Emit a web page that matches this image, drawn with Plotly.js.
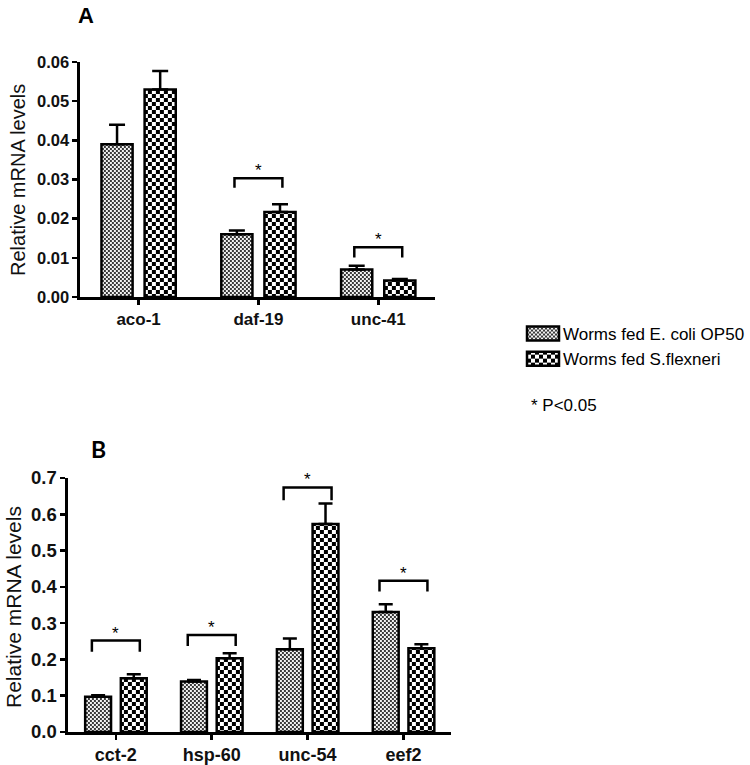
<!DOCTYPE html>
<html>
<head>
<meta charset="utf-8">
<script src="https://cdn.plot.ly/plotly-3.0.1.min.js"></script>
<style>
html,body{margin:0;padding:0;background:#fff;}
#chart{width:750px;height:765px;}
</style>
</head>
<body>
<svg width="0" height="0" style="position:absolute">
  <defs>
    <pattern id="fineChk" width="4" height="4" patternUnits="userSpaceOnUse">
      <rect width="4" height="4" fill="#f2f2f2"/>
      <rect x="0" y="0" width="2" height="2" fill="#3a3a3a"/>
      <rect x="2" y="2" width="2" height="2" fill="#3a3a3a"/>
    </pattern>
    <pattern id="coarseChk" width="8" height="8" patternUnits="userSpaceOnUse">
      <rect width="8" height="8" fill="#ffffff"/>
      <rect x="0" y="0" width="4" height="4" fill="#000"/>
      <rect x="4" y="4" width="4" height="4" fill="#000"/>
    </pattern>
  </defs>
</svg>
<div id="chart"></div>
<script>
// ---------- data ----------
const seriesNames = ['Worms fed E. coli OP50', 'Worms fed S.flexneri'];

const catsA = ['aco-1', 'daf-19', 'unc-41'];
const ecoliA = [0.039, 0.016, 0.007];
const ecoliAErr = [0.005, 0.001, 0.001];
const sflexA = [0.053, 0.0217, 0.0042];
const sflexAErr = [0.0047, 0.002, 0.0004];
const sigAIdx = [1, 2];
const sigATop = [0.0303, 0.0127];
const sigALeg = [0.0279, 0.0101];

const catsB = ['cct-2', 'hsp-60', 'unc-54', 'eef2'];
const ecoliB = [0.097, 0.139, 0.228, 0.331];
const ecoliBErr = [0.004, 0.004, 0.030, 0.021];
const sflexB = [0.148, 0.203, 0.573, 0.231];
const sflexBErr = [0.011, 0.014, 0.057, 0.011];
const sigBIdx = [0, 1, 2, 3];
const sigBTop = [0.252, 0.267, 0.674, 0.417];
const sigBLeg = [0.221, 0.237, 0.639, 0.387];

const yTicksA = [0, 0.01, 0.02, 0.03, 0.04, 0.05, 0.06];
const yTicksB = [0, 0.1, 0.2, 0.3, 0.4, 0.5, 0.6, 0.7];

// ---------- helpers ----------
const W = 750, H = 765;
const px = v => v / W;
const py = v => 1 - v / H;
const FONT = 'Liberation Sans, Arial, sans-serif';
const idx = a => a.map((_, i) => i);
const zeros = a => a.map(() => 0);

function barTrace(x, y, err, name, xa, ya, offset, width, capW, show) {
  return {
    type: 'bar', x: x, y: y, name: name, xaxis: xa, yaxis: ya,
    offset: offset, width: width, showlegend: show, legendgroup: name,
    marker: {color: '#888', line: {color: '#000', width: 2.5}},
    error_y: {type: 'data', symmetric: false, array: err, arrayminus: zeros(err),
              color: '#000', thickness: 2.5, width: capW},
    hoverinfo: 'skip'
  };
}
function bracketTrace(ids, tops, legs, half, xa, ya) {
  const xs = [], ys = [];
  ids.forEach((c, k) => {
    xs.push(c - half, c - half, c + half, c + half, null);
    ys.push(legs[k], tops[k], tops[k], legs[k], null);
  });
  return {type: 'scatter', mode: 'lines', x: xs, y: ys, xaxis: xa, yaxis: ya,
          line: {color: '#000', width: 2.5}, showlegend: false, hoverinfo: 'skip'};
}
function starAnnots(ids, tops, xr, yr) {
  return ids.map((c, k) => ({
    x: c, y: tops[k], xref: xr, yref: yr, text: '*', showarrow: false,
    yanchor: 'bottom', yshift: -4, font: {family: FONT, size: 17, color: '#000'}
  }));
}

const data = [
  barTrace(idx(catsA), ecoliA, ecoliAErr, seriesNames[0], 'x', 'y', -0.31, 0.26, 8, true),
  barTrace(idx(catsA), sflexA, sflexAErr, seriesNames[1], 'x', 'y', 0.05, 0.26, 8, true),
  barTrace(idx(catsB), ecoliB, ecoliBErr, seriesNames[0], 'x2', 'y2', -0.32, 0.27, 7, false),
  barTrace(idx(catsB), sflexB, sflexBErr, seriesNames[1], 'x2', 'y2', 0.052, 0.27, 7, false),
  bracketTrace(sigAIdx, sigATop, sigALeg, 0.2, 'x', 'y'),
  bracketTrace(sigBIdx, sigBTop, sigBLeg, 0.25, 'x2', 'y2')
];

const axisCommon = {
  showline: true, linecolor: '#000', linewidth: 2.5, mirror: false,
  ticks: 'outside', ticklen: 5, tickwidth: 2.5, tickcolor: '#000',
  showgrid: false, zeroline: false, fixedrange: true,
  tickfont: {family: FONT, size: 17, color: '#111', weight: 700}
};

const layout = {
  width: W, height: H,
  margin: {l: 0, r: 0, t: 0, b: 0},
  paper_bgcolor: '#fff', plot_bgcolor: 'rgba(0,0,0,0)',
  barmode: 'overlay',
  showlegend: true,
  legend: {x: px(524), y: py(316), xanchor: 'left', yanchor: 'top',
           font: {family: FONT, size: 17, color: '#000'}, tracegroupgap: 0,
           bgcolor: 'rgba(0,0,0,0)', itemwidth: 30, itemclick: false},
  xaxis: Object.assign({}, axisCommon, {
    domain: [px(80), px(436)], range: [-0.49, 2.477], anchor: 'y',
    tickvals: idx(catsA), ticktext: catsA
  }),
  yaxis: Object.assign({}, axisCommon, {
    domain: [py(297), py(62)], range: [0, 0.06], anchor: 'x',
    tickvals: yTicksA, tickformat: '.2f',
    tickfont: {family: FONT, size: 16.5, color: '#111', weight: 700}
  }),
  xaxis2: Object.assign({}, axisCommon, {
    domain: [px(68), px(452)], range: [-0.5, 3.5], anchor: 'y2',
    tickvals: idx(catsB), ticktext: catsB,
    tickfont: {family: FONT, size: 18, color: '#111', weight: 700}
  }),
  yaxis2: Object.assign({}, axisCommon, {
    domain: [py(732), py(478)], range: [0, 0.7], anchor: 'x2',
    tickvals: yTicksB, tickformat: '.1f',
    tickfont: {family: FONT, size: 18.5, color: '#111', weight: 700}
  }),
  annotations: [
    {text: 'A', x: px(86), y: py(15), xref: 'paper', yref: 'paper', showarrow: false,
     xanchor: 'center', yanchor: 'middle', font: {family: FONT, size: 22, color: '#000', weight: 700}},
    {text: 'B', x: px(99), y: py(449), xref: 'paper', yref: 'paper', showarrow: false,
     xanchor: 'center', yanchor: 'middle', font: {family: 'Lato, ' + FONT, size: 23, color: '#000', weight: 700}},
    {text: 'Relative mRNA levels', x: px(18), y: py(180), xref: 'paper', yref: 'paper',
     showarrow: false, textangle: -90, xanchor: 'center', yanchor: 'middle',
     font: {family: FONT, size: 20, color: '#111'}},
    {text: 'Relative mRNA levels', x: px(13), y: py(607), xref: 'paper', yref: 'paper',
     showarrow: false, textangle: -90, xanchor: 'center', yanchor: 'middle',
     font: {family: FONT, size: 21, color: '#111'}},
    {text: '* P<0.05', x: px(530), y: py(405), xref: 'paper', yref: 'paper', showarrow: false,
     xanchor: 'left', yanchor: 'middle', font: {family: FONT, size: 17, color: '#000'}}
  ].concat(starAnnots(sigAIdx, sigATop, 'x', 'y'), starAnnots(sigBIdx, sigBTop, 'x2', 'y2'))
};

Plotly.newPlot('chart', data, layout, {staticPlot: true, displayModeBar: false}).then(function () {
  const fills = ['url(#fineChk)', 'url(#coarseChk)'];
  document.querySelectorAll('#chart .barlayer').forEach(function (layer) {
    layer.querySelectorAll('g.trace').forEach(function (tr, i) {
      tr.querySelectorAll('.point path').forEach(function (p) {
        p.style.fill = fills[i % 2];
        p.style.fillOpacity = 1;
      });
    });
  });
  document.querySelectorAll('#chart .legend .traces').forEach(function (tr, i) {
    tr.querySelectorAll('.legendpoints path').forEach(function (p) {
      p.setAttribute('d', 'M16,7H-16V-7H16Z');
      p.style.fill = fills[i % 2];
      p.style.fillOpacity = 1;
      p.style.stroke = '#000';
      p.style.strokeWidth = '2.5px';
    });
  });
});
</script>
</body>
</html>
